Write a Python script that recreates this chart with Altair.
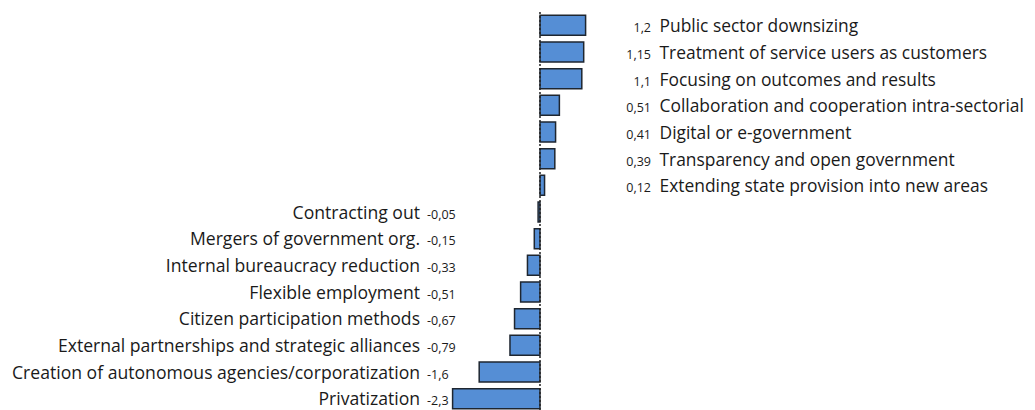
import altair as alt
import pandas as pd

categories = [
    "Public sector downsizing",
    "Treatment of service users as customers",
    "Focusing on outcomes and results",
    "Collaboration and cooperation intra-sectorial",
    "Digital or e-government",
    "Transparency and open government",
    "Extending state provision into new areas",
    "Contracting out",
    "Mergers of government org.",
    "Internal bureaucracy reduction",
    "Flexible employment",
    "Citizen participation methods",
    "External partnerships and strategic alliances",
    "Creation of autonomous agencies/corporatization",
    "Privatization",
]
values = [1.2, 1.15, 1.1, 0.51, 0.41, 0.39, 0.12,
          -0.05, -0.15, -0.33, -0.51, -0.67, -0.79, -1.6, -2.3]
value_labels = ["1,2", "1,15", "1,1", "0,51", "0,41", "0,39", "0,12",
                "-0,05", "-0,15", "-0,33", "-0,51", "-0,67", "-0,79", "-1,6", "-2,3"]

df = pd.DataFrame({"cat": categories, "v": values, "lab": value_labels})

FONT = "Open Sans"
TXT = "#1a1a1a"

xscale = alt.Scale(domain=[-14.0, 12.816], nice=False, zero=False)
yenc = alt.Y("cat:N", sort=categories, axis=None,
             scale=alt.Scale(paddingInner=0.25, paddingOuter=0.125))

base = alt.Chart(df)

bars = base.mark_bar(color="#558ED5", stroke="#1e2630", strokeWidth=1.5).encode(
    x=alt.X("v:Q", scale=xscale, axis=None),
    x2=alt.datum(0),
    y=yenc,
)

zero = alt.Chart(pd.DataFrame({"z": [0]})).mark_rule(
    color="#222222", strokeDash=[2, 2], strokeWidth=1.5
).encode(x=alt.X("z:Q", scale=xscale))

pos = base.transform_filter("datum.v > 0")
neg = base.transform_filter("datum.v < 0")

pos_val = pos.mark_text(align="right", baseline="middle", dx=-4.5, dy=3, font=FONT,
                        fontSize=12.5, color=TXT).encode(
    x=alt.datum(3.04, scale=xscale), y=yenc, text="lab:N")
pos_name = pos.mark_text(align="left", baseline="middle", dx=4, dy=2, font=FONT,
                         fontSize=17.4, color=TXT).encode(
    x=alt.datum(3.04, scale=xscale), y=yenc, text="cat:N")
neg_name = neg.mark_text(align="right", baseline="middle", dx=-3.5, dy=1.5, font=FONT,
                         fontSize=17.6, color=TXT).encode(
    x=alt.datum(-3.065, scale=xscale), y=yenc, text="cat:N")
neg_val = neg.mark_text(align="left", baseline="middle", dx=3.5, dy=2.5, font=FONT,
                        fontSize=12.5, color=TXT).encode(
    x=alt.datum(-3.065, scale=xscale), y=yenc, text="lab:N")

chart = alt.layer(bars, zero, pos_val, pos_name, neg_name, neg_val).properties(
    width=1019, height=400,
    padding={"left": 0, "top": 4, "right": 0, "bottom": 0},
    autosize=alt.AutoSizeParams(type="none"),
).configure_view(stroke=None)

chart.save("out.html", embed_options={"renderer": "svg", "actions": False})
